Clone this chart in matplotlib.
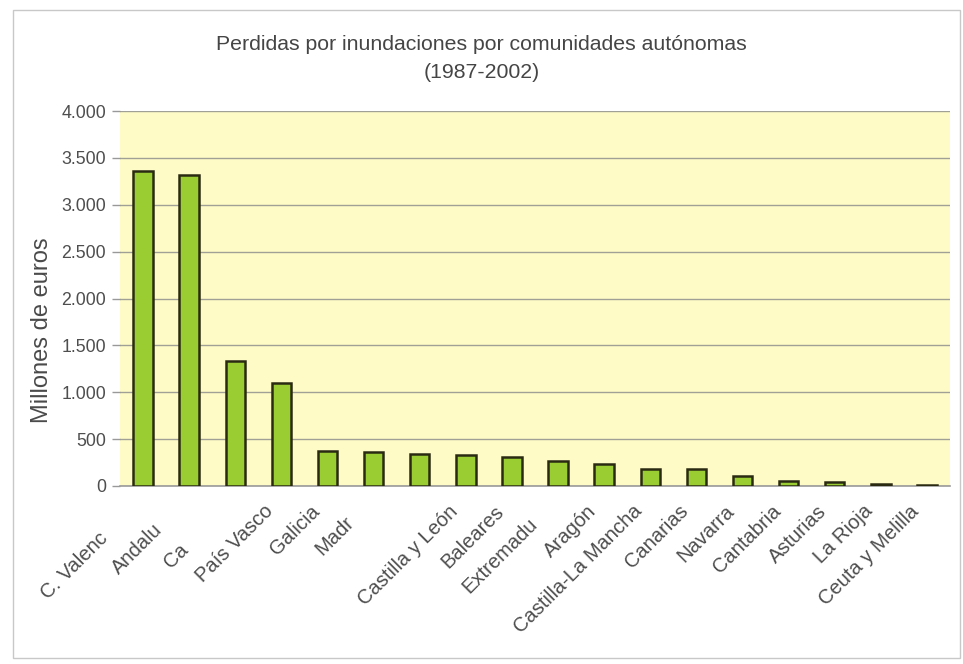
import matplotlib
matplotlib.use("Agg")
import matplotlib.pyplot as plt
from matplotlib.patches import Rectangle
from matplotlib.transforms import ScaledTranslation
import numpy as np

plt.rcParams['font.family'] = ['Liberation Sans', 'DejaVu Sans']

# Losses from floods by autonomous community, 1987-2002 (millions of euros)
categories = ["C. Valenciana", "Andalucía", "Cataluña", "País Vasco", "Galicia",
              "Madrid", "Murcia", "Castilla y León", "Baleares", "Extremadura",
              "Aragón", "Castilla-La Mancha", "Canarias", "Navarra", "Cantabria",
              "Asturias", "La Rioja", "Ceuta y Melilla"]
tick_labels = ["C. Valenc", "Andalu", "Ca", "País Vasco", "Galicia",
               "Madr", "", "Castilla y León", "Baleares", "Extremadu",
               "Aragón", "Castilla-La Mancha", "Canarias", "Navarra", "Cantabria",
               "Asturias", "La Rioja", "Ceuta y Melilla"]
losses = [3360, 3320, 1330, 1100, 378, 368, 340, 330, 312, 268,
          232, 178, 178, 103, 50, 42, 17, 10]
y_ticks = [0, 500, 1000, 1500, 2000, 2500, 3000, 3500, 4000]
y_tick_labels = ["0", "500", "1.000", "1.500", "2.000", "2.500", "3.000", "3.500", "4.000"]

W, H = 963, 664
fig = plt.figure(figsize=(W / 100, H / 100), dpi=100)
fig.patch.set_facecolor("white")

# frame around the whole chart
fig.add_artist(Rectangle((13 / W, 1 - 658 / H), (960 - 13) / W, (658 - 10) / H,
                         transform=fig.transFigure, fill=False,
                         edgecolor="#c8c8c8", linewidth=1.0))

ax = fig.add_axes([120 / W, 1 - 486 / H, (950 - 120) / W, (486 - 111) / H])
ax.set_facecolor("#fffbc6")

x = np.arange(len(categories))
ax.bar(x, losses, width=0.42, color="#9acd32", edgecolor="#2a2a12",
       linewidth=1.8, zorder=3)

ax.set_xlim(-0.5, len(categories) - 0.5)
ax.set_ylim(0, 4000)
ax.set_yticks(y_ticks)
ax.set_yticklabels(y_tick_labels)
ax.yaxis.grid(True, color="#a0a096", linewidth=1.0, zorder=1)
ax.set_axisbelow(True)

ax.set_xticks(x)
ax.set_xticklabels(tick_labels, rotation=45, ha="right", va="center",
                   rotation_mode="anchor")
ax.tick_params(axis="x", length=0, pad=16, labelsize=14.5, labelcolor="#4e4e4e")
ax.tick_params(axis="y", length=6, width=1, color="#999999", pad=4,
               labelsize=12.8, labelcolor="#4e4e4e")

# Shortened names keep the position the full name would have: shift each one
# back along the 45° text direction by the width of the missing characters.
renderer = fig.canvas.get_renderer()
c45 = np.cos(np.radians(45))
for lab, full, short in zip(ax.get_xticklabels(), categories, tick_labels):
    d = 0.0
    if short and short != full:
        prop = lab.get_fontproperties()
        wf = renderer.get_text_width_height_descent(full, prop, ismath=False)[0]
        ws = renderer.get_text_width_height_descent(short, prop, ismath=False)[0]
        d = (wf - ws) / fig.dpi
    shift = ScaledTranslation(-0.11 - d * c45, -d * c45, fig.dpi_scale_trans)
    lab.set_transform(lab.get_transform() + shift)

for side in ("left", "right", "top"):
    ax.spines[side].set_visible(False)
ax.spines["bottom"].set_color("#9a9a9a")
ax.spines["bottom"].set_linewidth(1.2)

ax.set_ylabel("Millones de euros", fontsize=17, color="#4a4a4a", labelpad=6)
ax.yaxis.label.set_y(0.416)

fig.text(0.5, 1 - 45 / H, "Perdidas por inundaciones por comunidades autónomas",
         ha="center", va="center", fontsize=15.3, color="#454545")
fig.text(0.5, 1 - 72 / H, "(1987-2002)", ha="center", va="center",
         fontsize=15.3, color="#454545")

fig.savefig("out.png", dpi=100, facecolor=fig.get_facecolor())
